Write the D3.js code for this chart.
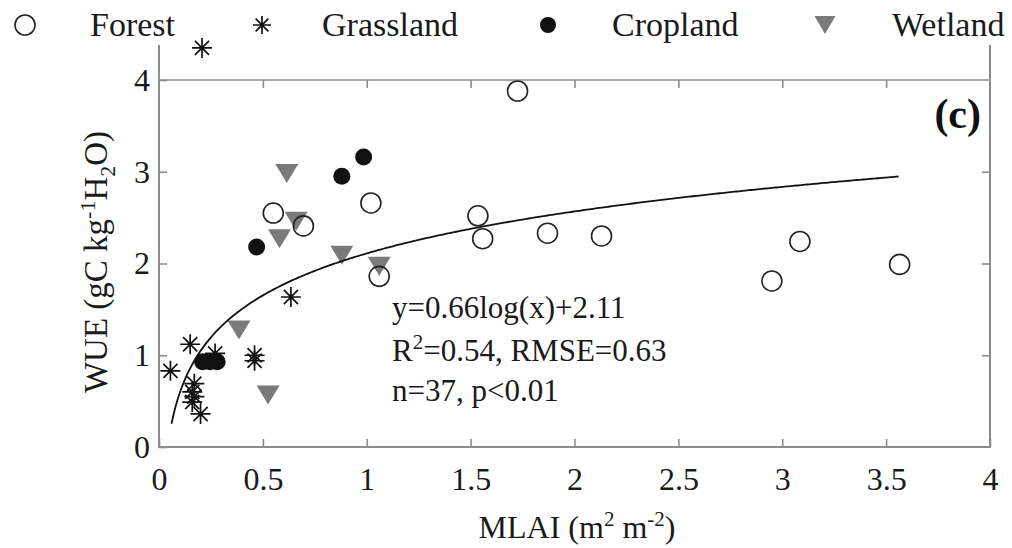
<!DOCTYPE html>
<html>
<head>
<meta charset="utf-8">
<script src="https://cdn.jsdelivr.net/npm/d3@7"></script>
<style>
  html, body { margin: 0; padding: 0; background: #fff; }
  svg { display: block; font-family: "Liberation Serif", "Times New Roman", serif; }
</style>
</head>
<body>
<svg id="chart" width="1012" height="548"></svg>
<script>
// ---------- data ----------
const forestX = [0.55, 0.695, 1.02, 1.06, 1.726, 1.535, 1.558, 1.87, 2.13, 2.95, 3.085, 3.565];
const forestY = [2.55, 2.41, 2.66, 1.86, 3.88, 2.52, 2.27, 2.33, 2.30, 1.81, 2.24, 1.99];

const grassX = [0.207, 0.635, 0.46, 0.46, 0.15, 0.055, 0.17, 0.16, 0.17, 0.16, 0.20, 0.27];
const grassY = [4.35, 1.635, 1.00, 0.94, 1.12, 0.83, 0.69, 0.60, 0.55, 0.49, 0.36, 1.02];

const cropX = [0.47, 0.88, 0.985, 0.21, 0.245, 0.28];
const cropY = [2.18, 2.95, 3.16, 0.93, 0.93, 0.93];

const wetX = [0.615, 0.66, 0.58, 0.88, 1.06, 0.385, 0.525];
const wetY = [2.98, 2.46, 2.27, 2.09, 1.97, 1.275, 0.567];

const xTicks = [0, 0.5, 1, 1.5, 2, 2.5, 3, 3.5, 4];
const yTicks = [0, 1, 2, 3, 4];
const legendLabels = ["Forest", "Grassland", "Cropland", "Wetland"];
const fitA = 0.66, fitB = 2.11;          // y = 0.66 ln(x) + 2.11
const fitRange = [0.06, 3.56];
const annotation = ["y=0.66log(x)+2.11", "R2=0.54, RMSE=0.63", "n=37, p<0.01"];

// ---------- layout ----------
const svg = d3.select("#chart");
const x = d3.scaleLinear().domain([0, 4]).range([159, 990]);
const y = d3.scaleLinear().domain([0, 4]).range([447, 80]);
const axisColor = "#8c8c8c";
const textColor = "#1a1a1a";

// frame lines
const frame = svg.append("g").attr("stroke", axisColor).attr("stroke-width", 2);
frame.append("line").attr("x1", x(0)).attr("x2", x(0)).attr("y1", y(0) + 1).attr("y2", 45);
frame.append("line").attr("x1", x(4)).attr("x2", x(4)).attr("y1", y(0) + 1).attr("y2", 45);
frame.append("line").attr("x1", x(0)).attr("x2", x(4)).attr("y1", y(0)).attr("y2", y(0));
frame.append("line").attr("x1", x(0)).attr("x2", x(4)).attr("y1", y(4)).attr("y2", y(4)).attr("stroke", "#a8a8a8");

// axes
function styleAxis(g) {
  g.select(".domain").remove();
  g.selectAll(".tick line").attr("stroke", axisColor).attr("stroke-width", 1.6);
  g.selectAll(".tick text").attr("fill", textColor).style("font-size", "32px")
   .style("font-family", "'Liberation Serif', serif");
}
svg.append("g").attr("transform", `translate(0,${y(0)})`)
  .call(d3.axisBottom(x).tickValues(xTicks).tickFormat(d => String(d)).tickSizeInner(-8).tickSizeOuter(0).tickPadding(20))
  .call(styleAxis);
svg.append("g").attr("transform", `translate(${x(0)},0)`)
  .call(d3.axisLeft(y).tickValues(yTicks).tickFormat(d => String(d)).tickSizeInner(-8).tickSizeOuter(0).tickPadding(9))
  .call(styleAxis);
svg.append("g").attr("transform", `translate(${x(4)},0)`)
  .call(d3.axisRight(y).tickValues([1, 2, 3]).tickFormat("").tickSizeInner(-8).tickSizeOuter(0))
  .call(styleAxis);
svg.append("g").attr("transform", `translate(0,${y(4)})`)
  .call(d3.axisTop(x).tickValues(xTicks.slice(1, -1)).tickFormat("").tickSizeInner(-8).tickSizeOuter(0))
  .call(styleAxis);

// ---------- marker helpers ----------
const triColor = "#7a7a7a";
function triangle(g, cx, cy, w, h) {
  g.append("path")
    .attr("d", `M${cx - w / 2},${cy - h / 2}L${cx + w / 2},${cy - h / 2}L${cx},${cy + h / 2}Z`)
    .attr("fill", triColor);
}
function asterisk(g, cx, cy, r) {
  const d = [];
  for (let k = 0; k < 4; k++) {
    const a = k * Math.PI / 4;
    const dx = r * Math.cos(a), dy = r * Math.sin(a);
    d.push(`M${cx - dx},${cy - dy}L${cx + dx},${cy + dy}`);
  }
  g.append("path").attr("d", d.join("")).attr("stroke", "#111").attr("stroke-width", 1.7).attr("fill", "none");
}

// ---------- data marks ----------
const marks = svg.append("g");
const wetG = marks.append("g");
wetX.forEach((v, i) => triangle(wetG, x(v), y(wetY[i]), 23, 19));

marks.append("g").selectAll("circle").data(cropX).join("circle")
  .attr("cx", d => x(d)).attr("cy", (d, i) => y(cropY[i])).attr("r", 8.5).attr("fill", "#111");

const grassG = marks.append("g");
grassX.forEach((v, i) => asterisk(grassG, x(v), y(grassY[i]), 10));

marks.append("g").selectAll("circle").data(forestX).join("circle")
  .attr("cx", d => x(d)).attr("cy", (d, i) => y(forestY[i])).attr("r", 10)
  .attr("fill", "none").attr("stroke", "#222").attr("stroke-width", 1.6);

// fitted curve (regression equation printed on the chart)
const fitXs = d3.range(fitRange[0], fitRange[1] + 1e-9, 0.01);
svg.append("path")
  .datum(fitXs)
  .attr("d", d3.line().x(d => x(d)).y(d => y(fitA * Math.log(d) + fitB)))
  .attr("fill", "none").attr("stroke", "#111").attr("stroke-width", 1.8);

// ---------- annotation ----------
const ann = svg.append("g").attr("fill", textColor).style("font-size", "31px");
ann.append("text").attr("x", 392).attr("y", 318).text(annotation[0]);
const r2 = ann.append("text").attr("x", 392).attr("y", 361);
r2.append("tspan").text("R");
r2.append("tspan").attr("dy", -12).style("font-size", "21px").text("2");
r2.append("tspan").attr("dy", 12).text("=0.54, RMSE=0.63");
ann.append("text").attr("x", 392).attr("y", 401).text(annotation[2]);

svg.append("text").attr("x", 981).attr("y", 128).attr("text-anchor", "end")
  .style("font-size", "42px").style("font-weight", "bold").attr("fill", "#111").text("(c)");

// ---------- axis titles ----------
const xt = svg.append("text").attr("x", 577).attr("y", 538).attr("text-anchor", "middle")
  .attr("fill", textColor).style("font-size", "32px");
xt.append("tspan").text("MLAI (m");
xt.append("tspan").attr("dy", -12).style("font-size", "21px").text("2");
xt.append("tspan").attr("dy", 12).text(" m");
xt.append("tspan").attr("dy", -12).style("font-size", "21px").text("-2");
xt.append("tspan").attr("dy", 12).text(")");

const yt = svg.append("text").attr("transform", "translate(107,262) rotate(-90)")
  .attr("text-anchor", "middle").attr("fill", textColor).style("font-size", "33px");
yt.append("tspan").text("WUE (gC kg");
yt.append("tspan").attr("dy", -12).style("font-size", "22px").text("-1");
yt.append("tspan").attr("dy", 12).text("H");
yt.append("tspan").attr("dy", 8).style("font-size", "22px").text("2");
yt.append("tspan").attr("dy", -8).text("O)");

// ---------- legend ----------
const leg = svg.append("g");
const legMarkX = [25, 262, 548, 825];
const legTextX = [90, 322, 612, 892];
const legY = 25;
leg.append("circle").attr("cx", legMarkX[0]).attr("cy", legY).attr("r", 10)
  .attr("fill", "none").attr("stroke", "#222").attr("stroke-width", 1.6);
asterisk(leg, legMarkX[1], legY, 9);
leg.append("circle").attr("cx", legMarkX[2]).attr("cy", legY).attr("r", 8).attr("fill", "#111");
triangle(leg, legMarkX[3], legY, 21, 18);
legendLabels.forEach((t, i) => {
  leg.append("text").attr("x", legTextX[i]).attr("y", 36).attr("fill", textColor)
    .style("font-size", "34px").text(t);
});
</script>
</body>
</html>
